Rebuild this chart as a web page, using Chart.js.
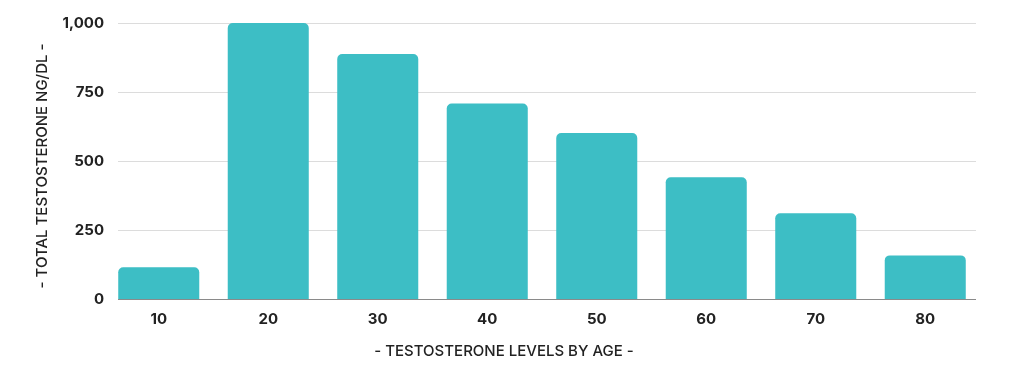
<!DOCTYPE html>
<html>
<head>
	<meta charset="utf-8">
	<title>Testosterone by age</title>
	<style>
		html, body { margin: 0; padding: 0; background: #fff; }
		#wrap { width: 1024px; height: 367px; }
	</style>
</head>
<body>
	<div id="wrap"><canvas id="myChart"></canvas></div>
	<script src="https://cdn.jsdelivr.net/npm/chart.js@4.4.0/dist/chart.umd.min.js"></script>
	<script>
		// data
		const ages = ["10", "20", "30", "40", "50", "60", "70", "80"];
		const levels = [115, 1000, 888, 708, 601, 441, 311, 158];
		const yTicks = [0, 250, 500, 750, 1000];
		const xTitle = "- TESTOSTERONE LEVELS BY AGE -";
		const yTitle = "- TOTAL TESTOSTERONE NG/DL -";

		const barColor = "rgb(61, 190, 197)";
		const textColor = "#222";
		const fontFamily = "Inter, 'Open Sans', sans-serif";

		// gridlines only span part of the plot in the original, titles sit off-centre
		const extrasPlugin = {
			id: "extras",
			beforeDatasetsDraw(chart) {
				const {ctx, chartArea, scales} = chart;
				const x0 = chartArea.left + 14, x1 = chartArea.right - 4;
				ctx.save();
				ctx.strokeStyle = "#dcdcdc";
				ctx.lineWidth = 1;
				yTicks.slice(1).forEach(v => {
					const y = Math.round(scales.y.getPixelForValue(v)) + 0.5;
					ctx.beginPath();
					ctx.moveTo(x0, y);
					ctx.lineTo(x1, y);
					ctx.stroke();
				});
				ctx.restore();
			},
			afterDatasetsDraw(chart) {
				const {ctx, chartArea, scales} = chart;
				const y = Math.round(scales.y.getPixelForValue(0)) + 0.5;
				ctx.save();
				ctx.strokeStyle = "#8a8a8a";
				ctx.lineWidth = 1.2;
				ctx.beginPath();
				ctx.moveTo(chartArea.left + 14, y);
				ctx.lineTo(chartArea.right - 4, y);
				ctx.stroke();

				ctx.fillStyle = textColor;
				ctx.font = "500 15px " + fontFamily;
				ctx.textAlign = "center";
				ctx.textBaseline = "middle";
				ctx.fillText(xTitle, chart.width / 2 - 8, 351);

				ctx.translate(42, (chartArea.top + chartArea.bottom) / 2 + 5);
				ctx.rotate(-Math.PI / 2);
				ctx.fillText(yTitle, 0, 0);
				ctx.restore();
			}
		};

		let ctx = document.getElementById("myChart").getContext("2d");
		let myChart = new Chart(ctx, {
			type: "bar",
			data: {
				labels: ages,
				datasets: [{
					data: levels,
					backgroundColor: barColor,
					borderRadius: {topLeft: 5, topRight: 5},
					borderSkipped: "bottom",
					categoryPercentage: 1,
					barPercentage: 0.74
				}]
			},
			plugins: [extrasPlugin],
			options: {
				responsive: true,
				maintainAspectRatio: false,
				animation: false,
				layout: { padding: { top: 23, right: 44, bottom: 0, left: 0 } },
				plugins: {
					legend: { display: false },
					tooltip: { enabled: false }
				},
				scales: {
					x: {
						grid: { display: false },
						border: { display: false },
						ticks: {
							color: textColor,
							padding: 3,
							font: { family: fontFamily, size: 15, weight: "bold" }
						},
						afterFit(scale) { scale.height = 68; }
					},
					y: {
						min: 0,
						max: 1000,
						grid: { display: false, drawTicks: false },
						border: { display: false },
						afterBuildTicks(scale) { scale.ticks = yTicks.map(v => ({value: v})); },
						ticks: {
							color: textColor,
							padding: 0,
							font: { family: fontFamily, size: 15, weight: "bold" },
							callback: v => v.toLocaleString("en-US")
						},
						afterFit(scale) { scale.width = 104; }
					}
				}
			}
		});
	</script>
</body>
</html>
